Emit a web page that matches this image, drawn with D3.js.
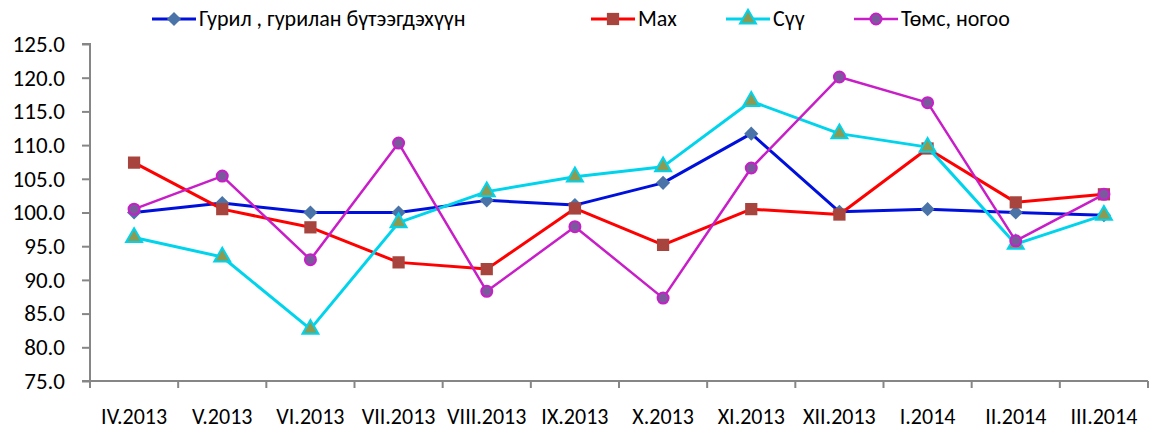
<!DOCTYPE html>
<html>
<head>
<meta charset="utf-8">
<script src="https://cdn.jsdelivr.net/npm/d3@7"></script>
<style>
  body { margin: 0; background: #fff; }
  text { font-family: Carlito, "Liberation Sans Narrow", Lato, sans-serif; fill: #000; }
</style>
</head>
<body>
<script>
var w = 1156;
var h = 430;

// data
var months = ['IV.2013', 'V.2013', 'VI.2013', 'VII.2013', 'VIII.2013', 'IX.2013',
              'X.2013', 'XI.2013', 'XII.2013', 'I.2014', 'II.2014', 'III.2014'];
var flour = [100.0, 101.4, 100.0, 100.0, 101.8, 101.1, 104.4, 111.7, 100.1, 100.5, 100.0, 99.6];
var meat = [107.4, 100.5, 97.8, 92.6, 91.6, 100.6, 95.2, 100.5, 99.7, 109.5, 101.5, 102.7];
var milk = [96.3, 93.4, 82.7, 98.5, 103.1, 105.3, 106.8, 116.5, 111.7, 109.7, 95.3, 99.6];
var veg = [100.5, 105.4, 93.0, 110.3, 88.3, 97.9, 87.3, 106.6, 120.1, 116.3, 95.8, 102.7];
var names = ['Гурил , гурилан бүтээгдэхүүн', 'Мах', 'Сүү', 'Төмс, ногоо'];
var yTicks = [75, 80, 85, 90, 95, 100, 105, 110, 115, 120, 125];

// diamond = square turned 45 degrees
var series = [
  { name: names[0], values: flour, line: '#0010dc', fill: '#4a73a8', stroke: '#4a73a8', shape: d3.symbolSquare, rot: 45, size: 100, width: 3, sw: 0 },
  { name: names[1], values: meat,  line: '#ff0000', fill: '#a8443e', stroke: '#a8443e', shape: d3.symbolSquare, rot: 0, size: 150, width: 3, sw: 0 },
  { name: names[2], values: milk,  line: '#00d4ec', fill: '#8c9a52', stroke: '#00d4ec', shape: d3.symbolTriangle, rot: 0, size: 110, width: 3, sw: 2 },
  { name: names[3], values: veg,   line: '#c81ec8', fill: '#7a5a9c', stroke: '#c81ec8', shape: d3.symbolCircle, rot: 0, size: 95, width: 2.5, sw: 2 }
];

var mLeft = 90, mRight = 1148, mTop = 44, mBottom = 381;

var x = d3.scaleBand().domain(months).range([mLeft, mRight]);
var y = d3.scaleLinear().domain([75, 125]).range([mBottom, mTop]);

var svg = d3.select('body').append('svg')
  .attr('width', w)
  .attr('height', h);

// y axis
var yAxis = d3.axisLeft(y).tickValues(yTicks).tickFormat(d3.format('.1f')).tickSize(8).tickPadding(17);
var gy = svg.append('g').attr('transform', 'translate(' + mLeft + ',0)').call(yAxis);
gy.select('.domain').attr('d', 'M-8,' + mBottom + 'H0V' + mTop + 'H-8');
gy.selectAll('path, line').attr('stroke', '#868686').attr('stroke-width', 2);
gy.selectAll('text').style('font-size', '23px').attr('fill', '#000').attr('font-family', null);

// x axis with ticks at category boundaries
var xAxis = d3.axisBottom(x).tickSize(0).tickPadding(0);
var gx = svg.append('g').attr('transform', 'translate(0,' + mBottom + ')').call(xAxis);
gx.select('.domain').attr('d', 'M' + mLeft + ',0H' + mRight).attr('stroke', '#868686').attr('stroke-width', 2);
gx.selectAll('text').style('font-size', '22px').attr('dy', null).attr('y', 43).attr('fill', '#000').attr('font-family', null);
var bounds = months.map(function(d){ return x(d) + x.bandwidth(); });
bounds.unshift(mLeft);
gx.selectAll('.bound')
  .data(bounds)
  .enter()
  .append('line')
  .attr('class', 'bound')
  .attr('x1', function(d){ return d; })
  .attr('x2', function(d){ return d; })
  .attr('y1', 0)
  .attr('y2', 7)
  .attr('stroke', '#868686')
  .attr('stroke-width', 2);

var line = d3.line()
  .x(function(d, i){ return x(months[i]) + x.bandwidth() / 2; })
  .y(function(d){ return y(d); });

series.forEach(function(s){
  svg.append('path')
    .datum(s.values)
    .attr('d', line)
    .attr('fill', 'none')
    .attr('stroke', s.line)
    .attr('stroke-width', s.width)
    .attr('stroke-linejoin', 'round');
  svg.selectAll(null)
    .data(s.values)
    .enter()
    .append('path')
    .attr('d', d3.symbol().type(s.shape).size(s.size))
    .attr('transform', function(d, i){
      return 'translate(' + (x(months[i]) + x.bandwidth() / 2) + ',' + y(d) + ') rotate(' + s.rot + ')';
    })
    .attr('fill', s.fill)
    .attr('stroke', s.stroke)
    .attr('stroke-width', s.sw);
});

// legend
var legendX = [152, 591, 726, 854];
var lg = svg.append('g');
series.forEach(function(s, i){
  var g = lg.append('g').attr('transform', 'translate(' + legendX[i] + ',19)');
  g.append('line').attr('x1', 0).attr('x2', 44).attr('y1', 0).attr('y2', 0)
    .attr('stroke', s.line).attr('stroke-width', s.width);
  g.append('path')
    .attr('d', d3.symbol().type(s.shape).size(s.size))
    .attr('transform', 'translate(22,0) rotate(' + s.rot + ')')
    .attr('fill', s.fill)
    .attr('stroke', s.stroke)
    .attr('stroke-width', s.sw);
  g.append('text')
    .attr('x', 47)
    .attr('y', 7)
    .style('font-size', '22px')
    .text(s.name);
});
</script>
</body>
</html>
